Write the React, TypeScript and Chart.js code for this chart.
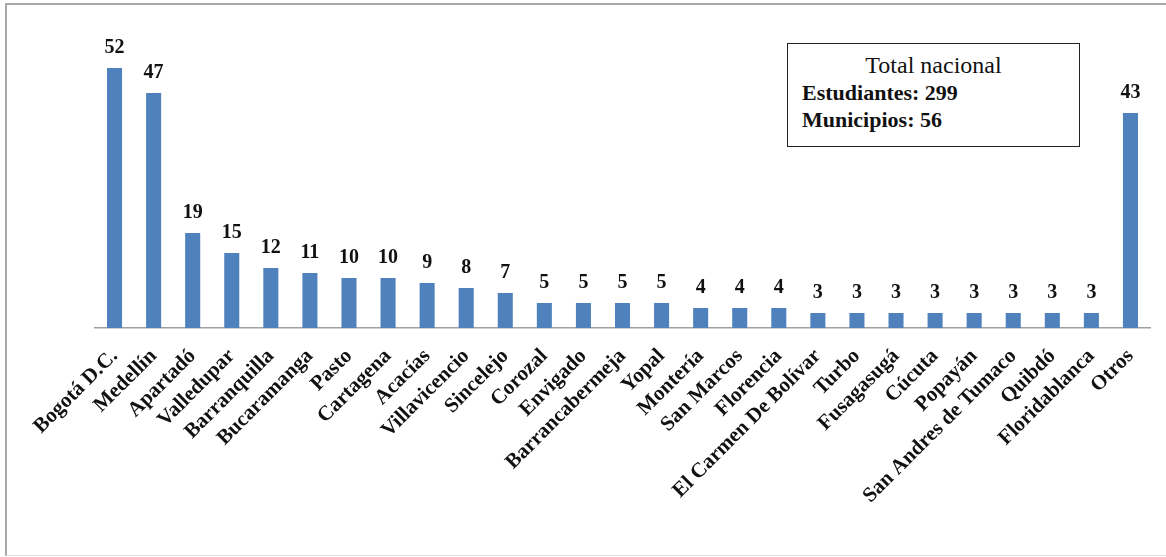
import React, { useEffect, useRef } from "react";
import { Chart, registerables } from "chart.js";

Chart.register(...registerables);

const categories: string[] = [
  "Bogotá D.C.",
  "Medellín",
  "Apartadó",
  "Valledupar",
  "Barranquilla",
  "Bucaramanga",
  "Pasto",
  "Cartagena",
  "Acacías",
  "Villavicencio",
  "Sincelejo",
  "Corozal",
  "Envigado",
  "Barrancabermeja",
  "Yopal",
  "Montería",
  "San Marcos",
  "Florencia",
  "El Carmen De Bolívar",
  "Turbo",
  "Fusagasugá",
  "Cúcuta",
  "Popayán",
  "San Andres de Tumaco",
  "Quibdó",
  "Floridablanca",
  "Otros",
];

const estudiantes: number[] = [
  52, 47, 19, 15, 12, 11, 10, 10, 9, 8, 7, 5, 5, 5, 5, 4, 4, 4, 3, 3, 3, 3, 3, 3, 3, 3, 43,
];

const boxTitle = "Total nacional";
const boxLines: string[] = ["Estudiantes: 299", "Municipios: 56"];

const SERIF = "'Liberation Serif', 'Times New Roman', serif";

const valueLabelPlugin = {
  id: "valueLabels",
  afterDatasetsDraw(chart: any) {
    const ctx = chart.ctx;
    const meta = chart.getDatasetMeta(0);
    const data = chart.data.datasets[0].data as number[];
    ctx.save();
    ctx.fillStyle = "#111";
    ctx.font = `bold 20px ${SERIF}`;
    ctx.textAlign = "center";
    ctx.textBaseline = "alphabetic";
    meta.data.forEach((bar: any, i: number) => {
      ctx.fillText(String(data[i]), bar.x, bar.y - 15);
    });
    ctx.restore();
  },
};

export default function App() {
  const canvasRef = useRef<HTMLCanvasElement | null>(null);

  useEffect(() => {
    if (!canvasRef.current) return;
    const chart = new Chart(canvasRef.current, {
      type: "bar",
      data: {
        labels: categories,
        datasets: [
          {
            data: estudiantes,
            backgroundColor: "#4F81BD",
            borderWidth: 0,
            barPercentage: 0.385,
            categoryPercentage: 1,
          },
        ],
      },
      options: {
        animation: false,
        responsive: true,
        maintainAspectRatio: false,
        layout: { padding: { left: 95, right: 16, top: 28, bottom: 0 } },
        plugins: {
          legend: { display: false },
          tooltip: { enabled: false },
        },
        scales: {
          x: {
            grid: { display: false, drawTicks: false },
            border: { display: true, color: "#A0A0A0", width: 1.5 },
            ticks: {
              autoSkip: false,
              minRotation: 45,
              maxRotation: 45,
              padding: 16,
              color: "#111",
              font: { family: SERIF, size: 21, weight: "bold" },
            },
            afterFit: (scale: any) => {
              scale.height = 229;
            },
          },
          y: {
            display: false,
            min: 0,
            max: 60,
          },
        },
      },
      plugins: [valueLabelPlugin],
    });
    return () => chart.destroy();
  }, []);

  return (
    <div
      style={{
        position: "fixed",
        left: 0,
        top: 0,
        width: 1166,
        height: 557,
        background: "#fff",
        overflow: "hidden",
      }}
    >
      <div
        style={{
          position: "absolute",
          left: 5,
          top: 3,
          width: 1200,
          height: 553,
          borderLeft: "2px solid #A8A8A8",
          borderTop: "2px solid #A8A8A8",
          borderBottom: "1px solid #E0E0E0",
          boxSizing: "border-box",
          pointerEvents: "none",
        }}
      />
      <canvas ref={canvasRef} style={{ position: "absolute", left: 0, top: 0, width: 1166, height: 557 }} />
      <div
        style={{
          position: "absolute",
          left: 787,
          top: 43,
          width: 293,
          height: 104,
          border: "1.5px solid #222",
          boxSizing: "border-box",
          background: "#fff",
          fontFamily: SERIF,
          color: "#111",
          padding: "7px 0 0 14px",
        }}
      >
        <div style={{ textAlign: "center", fontSize: 24, lineHeight: "28px", marginLeft: -14 }}>{boxTitle}</div>
        {boxLines.map((t) => (
          <div key={t} style={{ fontSize: 22, fontWeight: "bold", lineHeight: "27px" }}>
            {t}
          </div>
        ))}
      </div>
    </div>
  );
}
